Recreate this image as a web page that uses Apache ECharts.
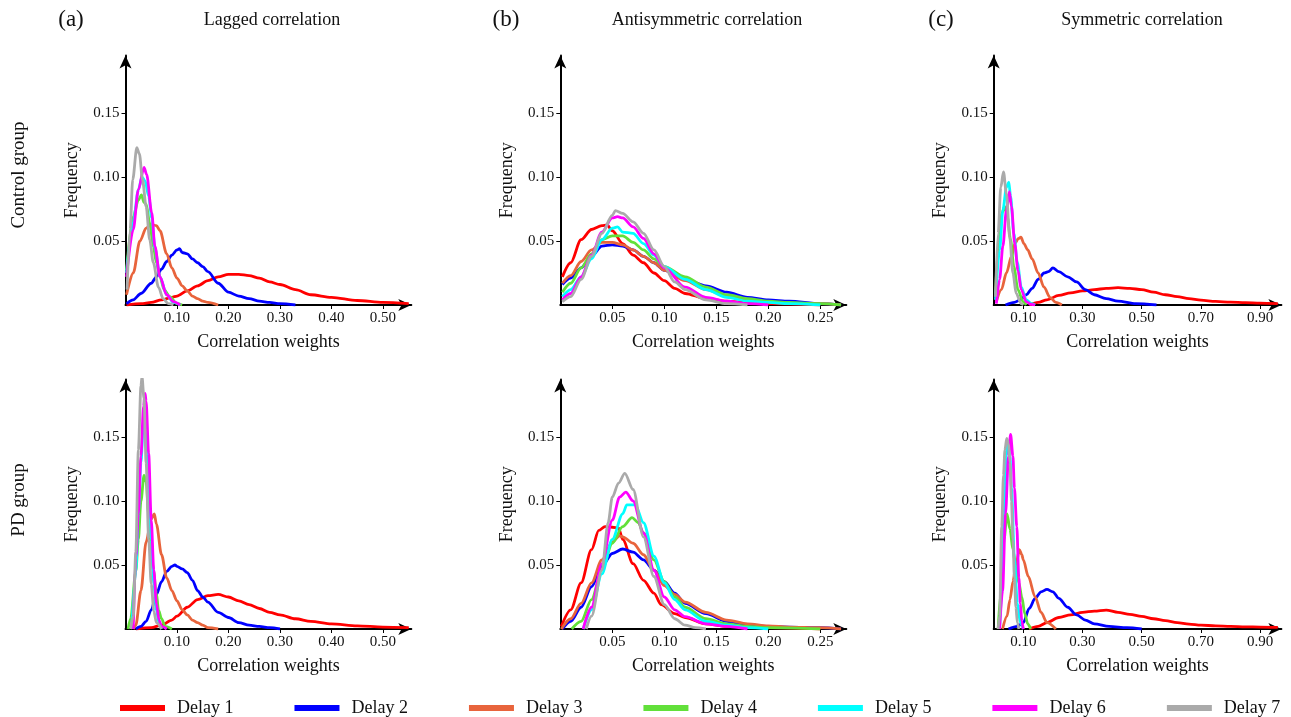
<!DOCTYPE html>
<html lang="en">
<head>
    <meta charset="UTF-8">
    <script src="https://cdn.jsdelivr.net/npm/echarts@6/dist/echarts.min.js"></script>
    <title>Correlation weights</title>
    <style>
        html, body { margin: 0; padding: 0; background: #fff; }
        #chart { width: 1291px; height: 717px; }
    </style>
</head>
<body>
<div id="chart"></div>
<script>
    const delayNames = ['Delay 1', 'Delay 2', 'Delay 3', 'Delay 4', 'Delay 5', 'Delay 6', 'Delay 7'];
    const delayColors = ['#ff0000', '#0000ff', '#e8643c', '#62e03a', '#00ffff', '#ff00ff', '#aaaaaa'];

    const xTicksLag = [0.1, 0.2, 0.3, 0.4, 0.5];
    const xTicksAnti = [0.05, 0.1, 0.15, 0.2, 0.25];
    const xTicksSym = [0.1, 0.3, 0.5, 0.7, 0.9];
    const yTicks = [0.05, 0.1, 0.15];

    // each panel: 7 curves (delay 1..7), points are [weight, frequency]
    const lagCtrl = [
        [[0.002,0],[0.03,0.001],[0.05,0.002],[0.07,0.004],[0.09,0.006],[0.10,0.007],[0.12,0.011],[0.14,0.015],[0.16,0.019],[0.18,0.022],[0.20,0.024],[0.22,0.024],[0.24,0.023],[0.26,0.021],[0.28,0.018],[0.30,0.016],[0.33,0.012],[0.36,0.008],[0.40,0.006],[0.45,0.0035],[0.50,0.002],[0.55,0.001]],
        [[0.002,0.001],[0.015,0.004],[0.03,0.009],[0.05,0.017],[0.06,0.022],[0.07,0.028],[0.08,0.034],[0.09,0.039],[0.10,0.043],[0.105,0.044],[0.11,0.041],[0.12,0.04],[0.13,0.036],[0.14,0.033],[0.15,0.03],[0.16,0.026],[0.18,0.017],[0.20,0.01],[0.22,0.007],[0.24,0.005],[0.26,0.003],[0.28,0.002],[0.30,0.001],[0.33,0]],
        [[0.002,0.008],[0.015,0.025],[0.028,0.05],[0.04,0.06],[0.05,0.063],[0.06,0.062],[0.067,0.058],[0.08,0.04],[0.09,0.029],[0.10,0.021],[0.11,0.015],[0.12,0.011],[0.13,0.007],[0.14,0.005],[0.15,0.003],[0.16,0.002],[0.18,0]],
        [[0.002,0.027],[0.015,0.069],[0.025,0.082],[0.031,0.086],[0.036,0.08],[0.04,0.079],[0.047,0.064],[0.054,0.046],[0.06,0.033],[0.067,0.022],[0.075,0.012],[0.086,0.0065],[0.10,0.001],[0.11,0]],
        [[0.002,0.025],[0.015,0.065],[0.025,0.09],[0.032,0.1],[0.038,0.097],[0.045,0.085],[0.051,0.068],[0.057,0.045],[0.067,0.022],[0.08,0.008],[0.093,0.002],[0.106,0]],
        [[0.002,0.022],[0.015,0.059],[0.025,0.09],[0.036,0.1075],[0.041,0.102],[0.051,0.072],[0.057,0.046],[0.067,0.022],[0.08,0.008],[0.093,0.0026],[0.106,0]],
        [[0.003,0.012],[0.009,0.059],[0.014,0.098],[0.022,0.123],[0.027,0.118],[0.033,0.098],[0.04,0.077],[0.047,0.051],[0.054,0.033],[0.064,0.014],[0.073,0.005],[0.083,0.001],[0.093,0]]
    ];
    const lagPD = [
        [[0.02,0],[0.05,0.001],[0.07,0.003],[0.09,0.007],[0.10,0.01],[0.12,0.017],[0.14,0.023],[0.16,0.026],[0.18,0.027],[0.20,0.025],[0.22,0.022],[0.24,0.019],[0.26,0.016],[0.28,0.013],[0.30,0.011],[0.33,0.008],[0.36,0.006],[0.40,0.004],[0.45,0.0025],[0.50,0.0015],[0.55,0.001]],
        [[0.02,0],[0.03,0.002],[0.04,0.006],[0.05,0.015],[0.06,0.027],[0.07,0.037],[0.08,0.045],[0.09,0.049],[0.096,0.05],[0.10,0.049],[0.11,0.047],[0.12,0.044],[0.13,0.038],[0.14,0.03],[0.15,0.025],[0.16,0.021],[0.18,0.013],[0.20,0.009],[0.22,0.005],[0.24,0.003],[0.26,0.002],[0.28,0.001],[0.30,0]],
        [[0.015,0],[0.02,0.003],[0.03,0.03],[0.04,0.068],[0.05,0.086],[0.056,0.09],[0.06,0.082],[0.07,0.058],[0.08,0.04],[0.09,0.03],[0.10,0.022],[0.11,0.015],[0.12,0.011],[0.13,0.007],[0.14,0.005],[0.15,0.003],[0.16,0.001],[0.18,0]],
        [[0.005,0],[0.01,0.008],[0.02,0.045],[0.025,0.07],[0.03,0.1],[0.036,0.12],[0.04,0.115],[0.045,0.09],[0.05,0.062],[0.054,0.046],[0.06,0.028],[0.064,0.015],[0.07,0.008],[0.077,0.002],[0.09,0]],
        [[0.012,0],[0.02,0.045],[0.025,0.09],[0.03,0.13],[0.035,0.163],[0.04,0.15],[0.045,0.11],[0.05,0.07],[0.055,0.035],[0.06,0.015],[0.065,0.005],[0.07,0]],
        [[0.015,0],[0.02,0.056],[0.025,0.09],[0.03,0.135],[0.035,0.174],[0.038,0.184],[0.04,0.178],[0.045,0.137],[0.05,0.085],[0.055,0.046],[0.06,0.02],[0.065,0.007],[0.07,0.002],[0.08,0]],
        [[0.01,0],[0.015,0.01],[0.02,0.06],[0.025,0.14],[0.03,0.19],[0.032,0.197],[0.036,0.18],[0.04,0.13],[0.045,0.07],[0.05,0.035],[0.055,0.014],[0.06,0.005],[0.07,0]]
    ];
    const antiCtrl = [
        [[0.002,0.022],[0.01,0.033],[0.02,0.051],[0.03,0.059],[0.04,0.062],[0.045,0.0625],[0.05,0.058],[0.06,0.048],[0.07,0.039],[0.08,0.033],[0.09,0.025],[0.10,0.019],[0.11,0.013],[0.12,0.009],[0.14,0.005],[0.16,0.003],[0.18,0.002],[0.20,0.001],[0.25,0]],
        [[0.002,0.016],[0.01,0.021],[0.02,0.029],[0.03,0.038],[0.04,0.046],[0.05,0.047],[0.06,0.046],[0.07,0.043],[0.08,0.038],[0.09,0.033],[0.10,0.027],[0.12,0.02],[0.14,0.015],[0.16,0.01],[0.18,0.006],[0.20,0.004],[0.22,0.003],[0.25,0.001],[0.27,0]],
        [[0.002,0.017],[0.01,0.023],[0.02,0.034],[0.03,0.043],[0.04,0.049],[0.05,0.049],[0.06,0.047],[0.07,0.043],[0.08,0.038],[0.09,0.033],[0.10,0.027],[0.12,0.019],[0.14,0.012],[0.16,0.007],[0.18,0.004],[0.20,0.002],[0.22,0.0015],[0.25,0.001],[0.27,0]],
        [[0.002,0.01],[0.01,0.017],[0.02,0.029],[0.03,0.04],[0.04,0.051],[0.05,0.054],[0.06,0.054],[0.07,0.049],[0.08,0.043],[0.09,0.036],[0.10,0.03],[0.12,0.022],[0.14,0.014],[0.16,0.008],[0.18,0.005],[0.20,0.003],[0.22,0.002],[0.25,0.001],[0.27,0]],
        [[0.002,0.0065],[0.01,0.012],[0.02,0.022],[0.03,0.036],[0.04,0.051],[0.05,0.06],[0.055,0.061],[0.06,0.057],[0.07,0.056],[0.08,0.048],[0.09,0.039],[0.10,0.03],[0.12,0.02],[0.14,0.012],[0.16,0.006],[0.18,0.003],[0.20,0.002],[0.22,0.001],[0.25,0]],
        [[0.002,0.004],[0.01,0.009],[0.02,0.022],[0.03,0.039],[0.04,0.057],[0.05,0.068],[0.055,0.069],[0.06,0.068],[0.07,0.061],[0.08,0.052],[0.09,0.04],[0.10,0.029],[0.12,0.014],[0.14,0.006],[0.16,0.003],[0.18,0.001],[0.20,0]],
        [[0.002,0.0025],[0.01,0.0065],[0.02,0.02],[0.03,0.038],[0.04,0.056],[0.05,0.07],[0.053,0.0737],[0.06,0.0716],[0.07,0.065],[0.08,0.056],[0.09,0.043],[0.10,0.03],[0.11,0.018],[0.12,0.012],[0.14,0.004],[0.16,0.001],[0.18,0]]
    ];
    const antiPD = [
        [[0.001,0.002],[0.01,0.015],[0.02,0.036],[0.03,0.062],[0.037,0.077],[0.043,0.08],[0.05,0.0795],[0.056,0.079],[0.06,0.07],[0.07,0.051],[0.08,0.038],[0.09,0.028],[0.097,0.019],[0.11,0.012],[0.12,0.009],[0.14,0.004],[0.16,0.002],[0.20,0.001],[0.25,0]],
        [[0.002,0],[0.01,0.006],[0.02,0.017],[0.03,0.033],[0.04,0.049],[0.05,0.059],[0.06,0.0625],[0.07,0.06],[0.08,0.054],[0.09,0.046],[0.10,0.037],[0.11,0.028],[0.12,0.02],[0.14,0.012],[0.16,0.006],[0.18,0.003],[0.20,0.002],[0.22,0.0015],[0.25,0.001],[0.27,0]],
        [[0.001,0],[0.01,0.008],[0.02,0.02],[0.03,0.036],[0.04,0.054],[0.05,0.068],[0.057,0.0727],[0.06,0.072],[0.07,0.067],[0.08,0.058],[0.09,0.046],[0.10,0.034],[0.11,0.027],[0.12,0.021],[0.14,0.013],[0.16,0.007],[0.18,0.004],[0.20,0.0025],[0.22,0.0015],[0.25,0.001],[0.27,0]],
        [[0.011,0],[0.02,0.006],[0.03,0.023],[0.04,0.046],[0.05,0.067],[0.06,0.08],[0.069,0.087],[0.075,0.083],[0.08,0.075],[0.09,0.054],[0.10,0.037],[0.11,0.025],[0.12,0.017],[0.14,0.008],[0.16,0.004],[0.18,0.002],[0.20,0.001],[0.25,0]],
        [[0.022,0],[0.03,0.015],[0.04,0.043],[0.05,0.07],[0.06,0.09],[0.064,0.097],[0.072,0.097],[0.08,0.083],[0.09,0.057],[0.10,0.036],[0.11,0.023],[0.12,0.015],[0.14,0.006],[0.16,0.003],[0.18,0.001],[0.20,0]],
        [[0.022,0],[0.03,0.017],[0.04,0.051],[0.05,0.085],[0.057,0.103],[0.063,0.107],[0.07,0.1],[0.08,0.075],[0.09,0.046],[0.10,0.025],[0.11,0.015],[0.12,0.0096],[0.14,0.004],[0.16,0.002],[0.18,0]],
        [[0.025,0],[0.03,0.01],[0.04,0.046],[0.046,0.083],[0.05,0.103],[0.056,0.114],[0.062,0.1216],[0.07,0.109],[0.08,0.072],[0.09,0.041],[0.10,0.019],[0.11,0.008],[0.12,0.003],[0.13,0.001],[0.14,0]]
    ];
    const symCtrl = [
        [[0.12,0],[0.15,0.002],[0.18,0.004],[0.22,0.0075],[0.26,0.0095],[0.30,0.011],[0.34,0.012],[0.38,0.013],[0.42,0.0135],[0.46,0.013],[0.50,0.012],[0.54,0.01],[0.58,0.008],[0.62,0.0065],[0.66,0.005],[0.70,0.0038],[0.75,0.0028],[0.80,0.0022],[0.85,0.0018],[0.90,0.0014],[0.96,0.001]],
        [[0.04,0],[0.07,0.002],[0.09,0.004],[0.11,0.008],[0.13,0.013],[0.15,0.02],[0.17,0.025],[0.185,0.026],[0.20,0.029],[0.22,0.026],[0.25,0.022],[0.28,0.018],[0.31,0.012],[0.34,0.008],[0.38,0.005],[0.42,0.003],[0.48,0.001],[0.55,0]],
        [[0.009,0.0026],[0.026,0.012],[0.043,0.025],[0.06,0.038],[0.071,0.048],[0.084,0.052],[0.092,0.053],[0.102,0.048],[0.115,0.043],[0.13,0.036],[0.15,0.025],[0.17,0.014],[0.19,0.006],[0.21,0.002],[0.23,0]],
        [[0.006,0.009],[0.017,0.048],[0.028,0.072],[0.037,0.077],[0.046,0.069],[0.057,0.051],[0.068,0.03],[0.082,0.012],[0.099,0.0026],[0.11,0]],
        [[0.006,0.004],[0.02,0.043],[0.031,0.074],[0.043,0.092],[0.051,0.096],[0.057,0.085],[0.068,0.056],[0.08,0.033],[0.093,0.014],[0.11,0.004],[0.127,0.001],[0.14,0]],
        [[0.009,0.001],[0.02,0.02],[0.031,0.046],[0.043,0.074],[0.053,0.0885],[0.06,0.077],[0.071,0.048],[0.082,0.027],[0.093,0.012],[0.11,0.0026],[0.127,0.0005],[0.14,0]],
        [[0.006,0.0065],[0.015,0.056],[0.024,0.092],[0.033,0.104],[0.043,0.087],[0.054,0.053],[0.065,0.025],[0.076,0.009],[0.093,0.001],[0.10,0]]
    ];
    const symPD = [
        [[0.12,0],[0.15,0.002],[0.18,0.005],[0.22,0.009],[0.26,0.011],[0.30,0.013],[0.34,0.014],[0.38,0.0148],[0.42,0.013],[0.46,0.0115],[0.50,0.0098],[0.54,0.008],[0.58,0.0065],[0.62,0.005],[0.66,0.0038],[0.70,0.003],[0.75,0.0025],[0.80,0.002],[0.85,0.0017],[0.90,0.0015],[0.96,0.0013]],
        [[0.05,0],[0.08,0.002],[0.10,0.005],[0.12,0.016],[0.14,0.024],[0.16,0.029],[0.18,0.031],[0.20,0.029],[0.22,0.024],[0.25,0.017],[0.28,0.011],[0.31,0.007],[0.34,0.004],[0.39,0.002],[0.45,0.001],[0.50,0]],
        [[0.03,0],[0.045,0.01],[0.055,0.023],[0.065,0.037],[0.075,0.05],[0.087,0.062],[0.095,0.058],[0.10,0.054],[0.117,0.041],[0.14,0.025],[0.16,0.013],[0.18,0.005],[0.21,0]],
        [[0.015,0],[0.025,0.03],[0.035,0.07],[0.045,0.09],[0.055,0.078],[0.065,0.062],[0.075,0.048],[0.085,0.036],[0.095,0.025],[0.105,0.012],[0.115,0.004],[0.125,0]],
        [[0.02,0],[0.028,0.03],[0.035,0.09],[0.042,0.135],[0.048,0.145],[0.055,0.135],[0.06,0.11],[0.07,0.055],[0.08,0.02],[0.09,0.005],[0.10,0]],
        [[0.02,0],[0.03,0.03],[0.04,0.09],[0.05,0.135],[0.057,0.152],[0.065,0.135],[0.07,0.11],[0.078,0.08],[0.085,0.04],[0.09,0.02],[0.095,0.006],[0.10,0]],
        [[0.015,0],[0.02,0.01],[0.027,0.08],[0.033,0.12],[0.038,0.14],[0.044,0.149],[0.05,0.145],[0.055,0.13],[0.06,0.1],[0.065,0.07],[0.07,0.04],[0.075,0.017],[0.08,0.005],[0.085,0]]
    ];

    const chart = echarts.init(document.getElementById('chart'));
    const font = 'Liberation Serif';

    // panel layout (pixels), one entry per column / row
    const cols = [
        { left: 125.5, width: 285.8, max: 0.555, ticks: xTicksLag },
        { left: 560.3, width: 286.0, max: 0.275, ticks: xTicksAnti },
        { left: 993.7, width: 287.7, max: 0.972, ticks: xTicksSym }
    ];
    const rows = [{ top: 55.4 }, { top: 379.4 }];
    const panelData = [[lagCtrl, antiCtrl, symCtrl], [lagPD, antiPD, symPD]];

    const axisLine = {
        show: true,
        symbol: ['none', 'arrow'],
        symbolSize: [9, 13],
        lineStyle: { color: '#000', width: 2 }
    };

    const grid = [], xAxis = [], yAxis = [], series = [];
    rows.forEach((row, r) => {
        cols.forEach((col, c) => {
            const idx = grid.length;
            grid.push({ left: col.left, top: row.top, width: col.width, height: 249.6 });
            xAxis.push({
                type: 'value', gridIndex: idx, min: 0, max: col.max,
                axisLine: axisLine,
                axisTick: { show: true, length: 4, customValues: col.ticks, lineStyle: { color: '#000' } },
                axisLabel: {
                    customValues: col.ticks, margin: 6,
                    formatter: v => v.toFixed(2),
                    color: '#111', fontFamily: font, fontSize: 15
                },
                splitLine: { show: false },
                name: 'Correlation weights', nameLocation: 'middle', nameGap: 28,
                nameTextStyle: { color: '#111', fontFamily: font, fontSize: 18 }
            });
            yAxis.push({
                type: 'value', gridIndex: idx, min: 0, max: 0.195,
                axisLine: axisLine,
                axisTick: { show: true, length: 4, customValues: yTicks, lineStyle: { color: '#000' } },
                axisLabel: {
                    customValues: yTicks, margin: 6,
                    formatter: v => v.toFixed(2),
                    color: '#111', fontFamily: font, fontSize: 15
                },
                splitLine: { show: false },
                name: 'Frequency', nameLocation: 'middle', nameGap: 44,
                nameTextStyle: { color: '#111', fontFamily: font, fontSize: 18 }
            });
            panelData[r][c].forEach((pts, k) => {
                series.push({
                    name: delayNames[k],
                    type: 'line',
                    xAxisIndex: idx,
                    yAxisIndex: idx,
                    data: pts,
                    showSymbol: false,
                    smooth: 0.3,
                    smoothMonotone: 'x',
                    itemStyle: { color: delayColors[k] },
                    lineStyle: { color: delayColors[k], width: 2.8 }
                });
            });
        });
    });

    const txt = (x, y, text, size, rot) => ({
        type: 'text', x: x, y: y, rotation: rot || 0,
        style: { text: text, fontSize: size, fontFamily: font, fill: '#111', align: 'center', verticalAlign: 'middle' }
    });

    const option = {
        animation: false,
        backgroundColor: '#fff',
        grid: grid,
        xAxis: xAxis,
        yAxis: yAxis,
        series: series,
        legend: {
            data: delayNames,
            left: 120, top: 699,
            padding: 0,
            icon: 'rect',
            itemWidth: 45, itemHeight: 6,
            itemGap: 61,
            textStyle: { color: '#111', fontFamily: font, fontSize: 18, padding: [0, 0, 0, 7] }
        },
        graphic: [
            txt(71, 20, '(a)', 23),
            txt(272, 20, 'Lagged correlation', 18),
            txt(506, 20, '(b)', 23),
            txt(707, 20, 'Antisymmetric correlation', 18),
            txt(941, 20, '(c)', 23),
            txt(1142, 20, 'Symmetric correlation', 18),
            txt(19, 175, 'Control group', 19, Math.PI / 2),
            txt(19, 500, 'PD group', 19, Math.PI / 2)
        ]
    };

    chart.setOption(option);
</script>
</body>
</html>
